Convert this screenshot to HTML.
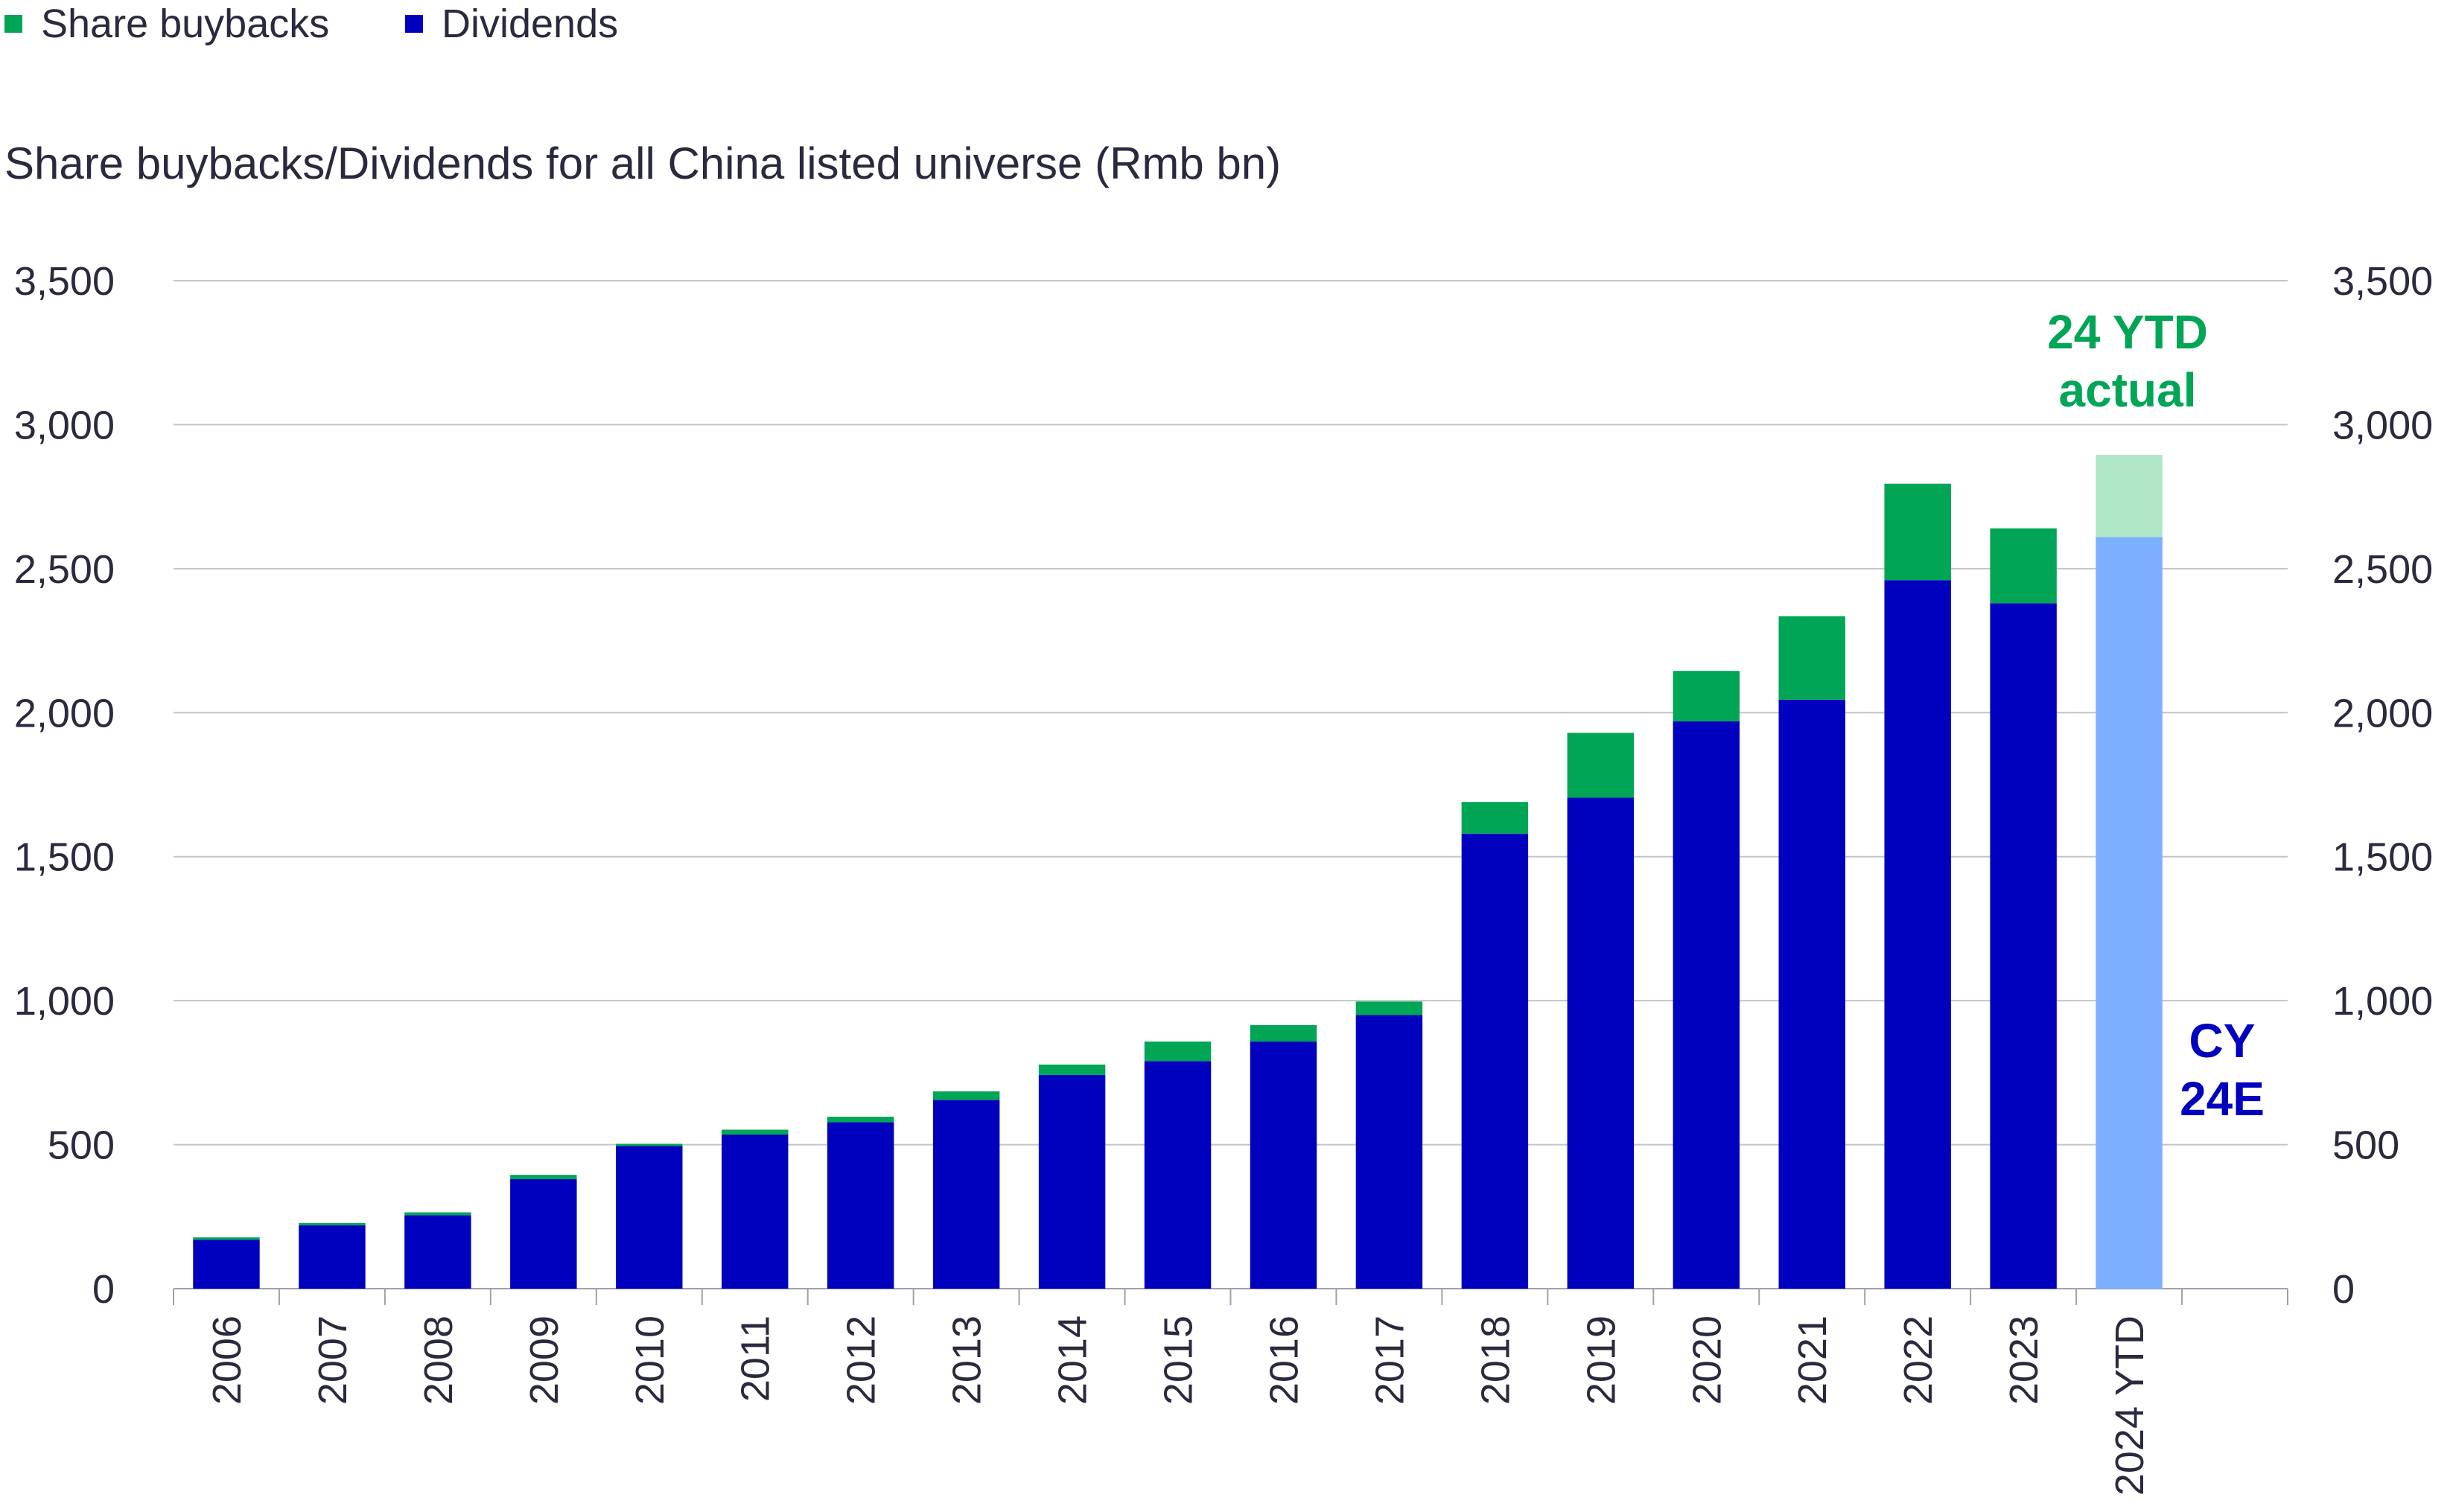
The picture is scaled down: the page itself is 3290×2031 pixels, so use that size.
<!DOCTYPE html>
<html><head><meta charset="utf-8"><style>
body{margin:0;background:#fff;width:3290px;height:2026px;overflow:hidden;font-family:"Liberation Sans",sans-serif;}
</style></head><body>
<svg id="chart" width="3290" height="2026" viewBox="0 0 3290 2026" xmlns="http://www.w3.org/2000/svg" font-family="Liberation Sans, sans-serif">
<g>
<rect x="6" y="20" width="24" height="24" fill="#00a555"/>
<text x="55" y="50" font-size="54" fill="#2a2a3e">Share buybacks</text>
<rect x="544" y="20" width="24" height="24" fill="#0000bf"/>
<text x="593" y="50" font-size="54" fill="#2a2a3e">Dividends</text>
</g>
<text x="6" y="240" font-size="60" fill="#2a2a3e">Share buybacks/Dividends for all China listed universe (Rmb bn)</text>
<g id="grid"></g><g id="bars"></g><g id="axes"></g>
<text x="2857" y="468" font-size="64" font-weight="bold" fill="#00a555" text-anchor="middle">24 YTD</text>
<text x="2857" y="546" font-size="64" font-weight="bold" fill="#00a555" text-anchor="middle">actual</text>
<text x="2984" y="1420" font-size="64" font-weight="bold" fill="#0000bf" text-anchor="middle">CY</text>
<text x="2984" y="1498" font-size="64" font-weight="bold" fill="#0000bf" text-anchor="middle">24E</text>
</svg>
<script>
const categories=["2006","2007","2008","2009","2010","2011","2012","2013","2014","2015","2016","2017","2018","2019","2020","2021","2022","2023","2024 YTD"];
const dividends=[170,220,255,380,495,535,578,655,742,790,858,950,1580,1705,1970,2045,2460,2380,2610];
const buybacks=[8,8,10,15,8,17,19,30,36,68,57,47,110,225,175,290,335,260,285];
const yTicks=[0,500,1000,1500,2000,2500,3000,3500];
const NS="http://www.w3.org/2000/svg";
const X0=233,X1=3072,Y0=1731,Y1=377,YMAX=3500,NSLOT=20;
const slot=(X1-X0)/NSLOT;
const y=v=>Y0-(v/YMAX)*(Y0-Y1);
const xc=i=>X0+slot*(i+0.5);
function mk(tag,attrs,parent){const e=document.createElementNS(NS,tag);for(const k in attrs)e.setAttribute(k,attrs[k]);document.getElementById(parent).appendChild(e);return e;}
yTicks.forEach(t=>{
 const l=mk('line',{x1:X0,x2:X1,y1:y(t),y2:y(t),stroke:t===0?'#a0a0b0':'#c4c4cc','stroke-width':2},'grid');
 
 
 const lab=t.toLocaleString('en-US');
 const a=mk('text',{x:154,y:y(t)+19,'font-size':54,fill:'#2a2a3e','text-anchor':'end'},'axes');a.textContent=lab;
 
 
 const b=mk('text',{x:3132,y:y(t)+19,'font-size':54,fill:'#2a2a3e'},'axes');b.textContent=lab;
 
 
});
for(let i=0;i<=NSLOT;i++){const tk=mk('line',{x1:X0+slot*i,x2:X0+slot*i,y1:Y0,y2:Y0+22,stroke:'#a0a0b0','stroke-width':2},'axes');
 
 }
const bw=slot*0.63;
categories.forEach((c,i)=>{
 const last=i===categories.length-1;
 const d=mk('rect',{x:xc(i)-bw/2,y:y(dividends[i]),width:bw,height:Y0-y(dividends[i]),fill:last?'#7ab0ff':'#0000bf'},'bars');
 
 
 const tot=dividends[i]+buybacks[i];
 const b=mk('rect',{x:xc(i)-bw/2,y:y(tot),width:bw,height:y(dividends[i])-y(tot),fill:last?'#aee6c6':'#00a555'},'bars');
 
 
 const t=mk('text',{x:0,y:0,'font-size':54,fill:'#2a2a3e','text-anchor':'end',transform:`translate(${xc(i)+19},1767) rotate(-90)`},'axes');
 t.textContent=c;
 
 
});
</script>
</body></html>
